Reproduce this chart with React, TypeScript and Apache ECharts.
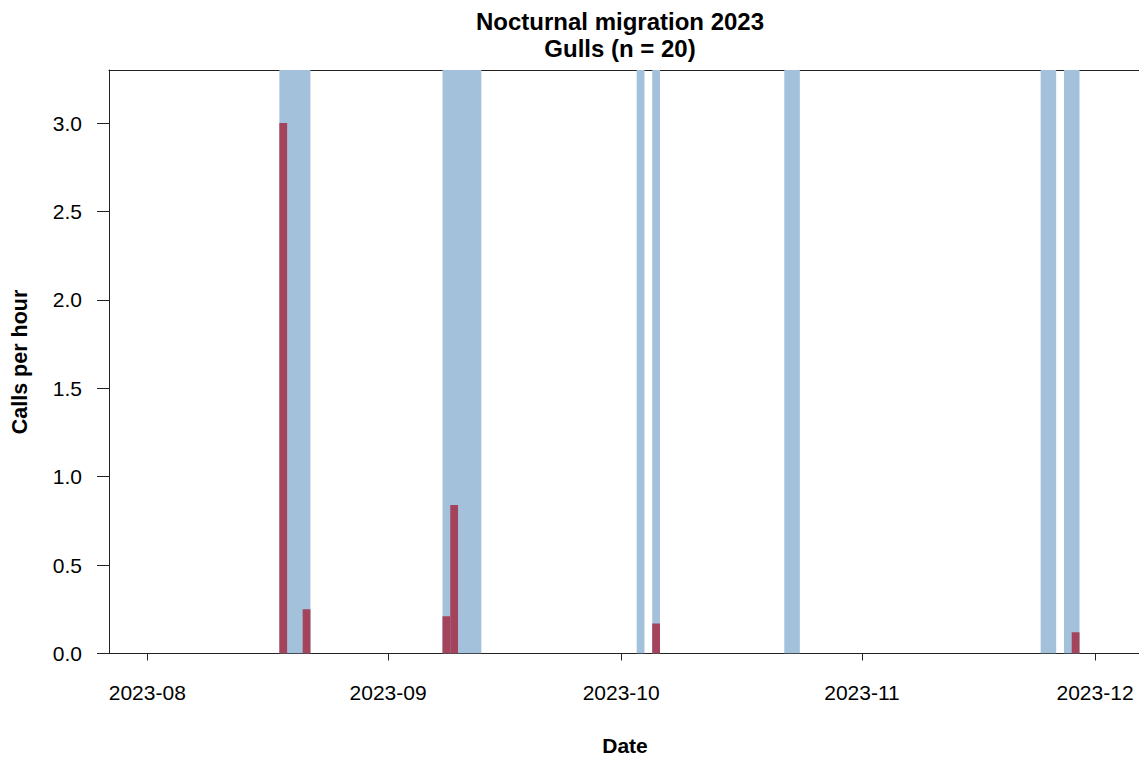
import React, { useEffect, useRef } from "react";
import * as echarts from "echarts";

// Nights with recording effort (blue bands, one day wide)
const effortNights: string[] = [
  "2023-08-18", "2023-08-19", "2023-08-20", "2023-08-21",
  "2023-09-08", "2023-09-09", "2023-09-10", "2023-09-11", "2023-09-12",
  "2023-10-03", "2023-10-05",
  "2023-10-22", "2023-10-23",
  "2023-11-24", "2023-11-25", "2023-11-27", "2023-11-28",
];

// Calls per hour (red bars)
const callDates: string[] = ["2023-08-18", "2023-08-21", "2023-09-08", "2023-09-09", "2023-10-05", "2023-11-28"];
const callRates: number[] = [3.0, 0.25, 0.21, 0.84, 0.17, 0.12];

// Tick labels
const monthTicks: string[] = ["2023-08-01", "2023-09-01", "2023-10-01", "2023-11-01", "2023-12-01"];
const yTicks: number[] = [0, 0.5, 1.0, 1.5, 2.0, 2.5, 3.0];

const DAY = 86400000;
const ms = (s: string) => Date.UTC(+s.slice(0, 4), +s.slice(5, 7) - 1, +s.slice(8, 10));

const X_MIN = ms("2023-08-01") - 4.93 * DAY;
const X_MAX = ms("2023-08-01") + 127.66 * DAY;
const Y_MAX = 3.3;

const FONT = "'Liberation Sans', Arial, sans-serif";
const BLUE = "#a3c1db";
const RED = "#a3435c";
const AXIS = "#222222";

// merge consecutive nights into continuous runs [start, end)
function runs(dates: string[]): [number, number][] {
  const v = dates.map(ms).sort((a, b) => a - b);
  const out: [number, number][] = [];
  for (const t of v) {
    const last = out[out.length - 1];
    if (last && t === last[1]) last[1] = t + DAY;
    else out.push([t, t + DAY]);
  }
  return out;
}

export default function App() {
  const ref = useRef<HTMLDivElement>(null);
  useEffect(() => {
    if (!ref.current) return;
    const chart = echarts.init(ref.current, null, { renderer: "svg" });
    const monthVals = monthTicks.map(ms);
    const fmtMonth = (v: number) => {
      const d = new Date(v);
      return d.getUTCFullYear() + "-" + String(d.getUTCMonth() + 1).padStart(2, "0");
    };
    // value layout: [start, end, height, isCall]
    const rectItem = (params: any, api: any) => {
      const start = api.value(0);
      const end = api.value(1);
      const h = api.value(2);
      const p0 = api.coord([start, h]);
      const p1 = api.coord([end, 0]);
      const color = api.value(3) === 1 ? RED : BLUE;
      return {
        type: "rect",
        shape: { x: p0[0], y: p0[1], width: p1[0] - p0[0], height: p1[1] - p0[1] },
        style: { fill: color },
      };
    };
    chart.setOption({
      animation: false,
      backgroundColor: "#ffffff",
      grid: { left: 109, right: 0, top: 70, bottom: 104.5, containLabel: false },
      xAxis: [
        {
          type: "value",
          min: X_MIN,
          max: X_MAX,
          position: "bottom",
          axisLine: { show: true, onZero: false, lineStyle: { color: AXIS, width: 1 } },
          axisTick: { show: true, length: 7, customValues: monthVals, lineStyle: { color: AXIS } },
          axisLabel: {
            customValues: monthVals,
            formatter: (v: number) => fmtMonth(v),
            fontFamily: FONT,
            fontSize: 21,
            color: "#000",
            margin: 28,
          },
          splitLine: { show: false },
        },
        {
          type: "value",
          min: X_MIN,
          max: X_MAX,
          position: "top",
          axisLine: { show: true, onZero: false, lineStyle: { color: AXIS, width: 1 } },
          axisTick: { show: false },
          axisLabel: { show: false },
          splitLine: { show: false },
        },
      ],
      yAxis: {
        type: "value",
        min: 0,
        max: Y_MAX,
        axisLine: { show: true, onZero: false, lineStyle: { color: AXIS, width: 1 } },
        axisTick: { show: true, length: 12, customValues: yTicks, lineStyle: { color: AXIS } },
        axisLabel: {
          customValues: yTicks,
          formatter: (v: number) => v.toFixed(1),
          fontFamily: FONT,
          fontSize: 21,
          color: "#000",
          margin: 27,
        },
        splitLine: { show: false },
      },
      series: [
        {
          type: "custom",
          renderItem: rectItem,
          clip: true,
          data: runs(effortNights).map(([s, e]) => [s, e, Y_MAX, 0]),
          z: 1,
        },
        {
          type: "custom",
          renderItem: rectItem,
          clip: true,
          data: callDates.map((d, i) => [ms(d), ms(d) + DAY, callRates[i], 1]),
          z: 2,
        },
      ],
      graphic: [
        {
          type: "text",
          x: 620,
          y: 21,
          style: {
            text: "Nocturnal migration 2023",
            fontFamily: FONT,
            fontSize: 24,
            fontWeight: "bold",
            fill: "#000",
            align: "center",
            verticalAlign: "middle",
          },
        },
        {
          type: "text",
          x: 620,
          y: 48,
          style: {
            text: "Gulls (n = 20)",
            fontFamily: FONT,
            fontSize: 24,
            fontWeight: "bold",
            fill: "#000",
            align: "center",
            verticalAlign: "middle",
          },
        },
        {
          type: "text",
          x: 20,
          y: 362,
          rotation: Math.PI / 2,
          style: {
            text: "Calls per hour",
            fontFamily: FONT,
            fontSize: 21.5,
            fontWeight: "bold",
            fill: "#000",
            align: "center",
            verticalAlign: "middle",
          },
        },
        {
          type: "text",
          x: 625,
          y: 745,
          style: {
            text: "Date",
            fontFamily: FONT,
            fontSize: 21,
            fontWeight: "bold",
            fill: "#000",
            align: "center",
            verticalAlign: "middle",
          },
        },
      ],
    });
    return () => chart.dispose();
  }, []);
  return (
    <div
      ref={ref}
      style={{ position: "fixed", left: 0, top: 0, width: 1139, height: 758, background: "#fff" }}
    />
  );
}
